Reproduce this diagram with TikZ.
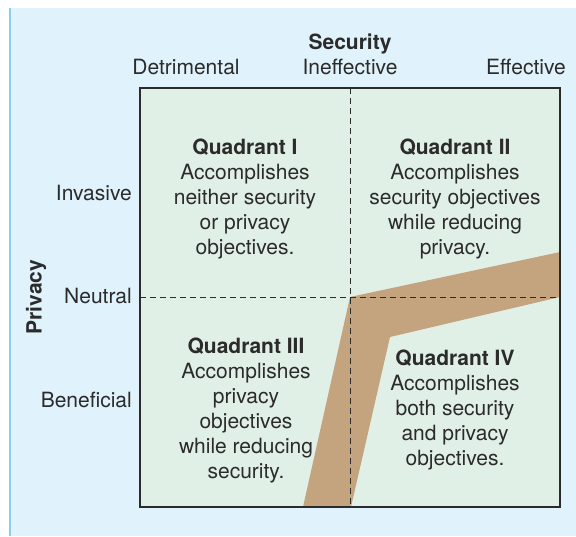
\documentclass[tikz,border=0pt]{standalone}
\usepackage{fontspec}
\setmainfont{TeX Gyre Heros}
\usepackage{tikz}
\usetikzlibrary{calc}
\definecolor{fondbleu}{HTML}{E0F2FB}
\definecolor{bordbleu}{HTML}{8ECDF0}
\definecolor{fondvert}{HTML}{E1F0E6}
\definecolor{bande}{HTML}{C4A47F}
\definecolor{trait}{HTML}{2B2B2B}
\tikzstyle{texte}     =[inner sep=0pt, font=\fontsize{21}{25}\selectfont, text=trait]
\tikzstyle{quadrant}  =[texte, align=center]
\tikzstyle{pointille} =[trait, line width=1pt, dash pattern=on 6pt off 4pt]

\begin{document}
\begin{tikzpicture}[x=1pt,y=-1pt]

\useasboundingbox (0,0) rectangle (576,536);

%%%%%%%%%%%%%%%%%%%%%%%%
%fond du dessin
%%%%%%%%%%%%%%%%%%%%%%%%
\fill [white] (0,0) rectangle (576,536);
\fill [fondbleu] (10,8) rectangle (576,536);
\draw [bordbleu, line width=1.5pt] (10,8)--(10,536);

%%%%%%%%%%%%%%%%%%%%%%%%
%Définition du cadre
%%%%%%%%%%%%%%%%%%%%%%%%
\def \gauche {140}; %bord gauche du cadre
\def \droite {560}; %bord droit du cadre
\def \haut {88}; %bord haut du cadre
\def \bas {507}; %bord bas du cadre
\def \milieuX {350}; %abscisse de la ligne verticale
\def \milieuY {297}; %ordonnée de la ligne horizontale

\coordinate (A) at (\gauche,\haut);
\coordinate (B) at (\droite,\haut);
\coordinate (C) at (\droite,\bas);
\coordinate (D) at (\gauche,\bas);
\fill [fondvert] (A) rectangle (C);

%bande colorée
\fill [bande] (303,\bas)--(\milieuX,\milieuY)--(\droite,252)--(\droite,\milieuY)--(390,337)--(351,\bas)--cycle;

%lignes pointillées
\coordinate (Nh) at (\milieuX,\haut);
\coordinate (Nb) at (\milieuX,\bas);
\coordinate (Og) at (\gauche,\milieuY);
\coordinate (Od) at (\droite,\milieuY);
\draw [pointille] (Nh)--(Nb);
\draw [pointille] (Og)--(Od);

%contour du cadre
\draw [trait, line width=2pt] (A)--(B)--(C)--(D)--cycle;
\draw [trait, line width=1pt] (Og)--++(6,0);

%%%%%%%%%%%%%%%%%%%%%%%%
%Axes et graduations
%%%%%%%%%%%%%%%%%%%%%%%%
\node [texte, font=\fontsize{21}{25}\selectfont\bfseries] (securite) at (\milieuX,44) {Security};
\node [texte] (inefficace) at (\milieuX,67) {Ineffective};
\node [texte] (nuisible) at (186,67) {Detrimental};
\node [texte] (efficace) at (526,67) {Effective};

\node [texte, anchor=east] (invasif) at (132,193) {Invasive};
\node [texte, anchor=east] (neutre) at (132,296) {Neutral};
\node [texte, anchor=east] (benefique) at (132,400) {Beneficial};
\node [texte, font=\fontsize{21}{25}\selectfont\bfseries, rotate=90] (vieprivee) at (36,297) {Privacy};

%%%%%%%%%%%%%%%%%%%%%%%%
%Textes des quadrants
%%%%%%%%%%%%%%%%%%%%%%%%
\node [quadrant] (q1) at (245,199) {\textbf{Quadrant I}\\Accomplishes\\neither security\\or privacy\\objectives.};
\node [quadrant] (q2) at (455,199) {\textbf{Quadrant II}\\Accomplishes\\security objectives\\while reducing\\privacy.};
\node [quadrant] (q3) at (246,411) {\textbf{Quadrant III}\\Accomplishes\\privacy\\objectives\\while reducing\\security.};
\node [quadrant] (q4) at (455,410) {\textbf{Quadrant IV}\\Accomplishes\\both security\\and privacy\\objectives.};

\end{tikzpicture}
\end{document}
